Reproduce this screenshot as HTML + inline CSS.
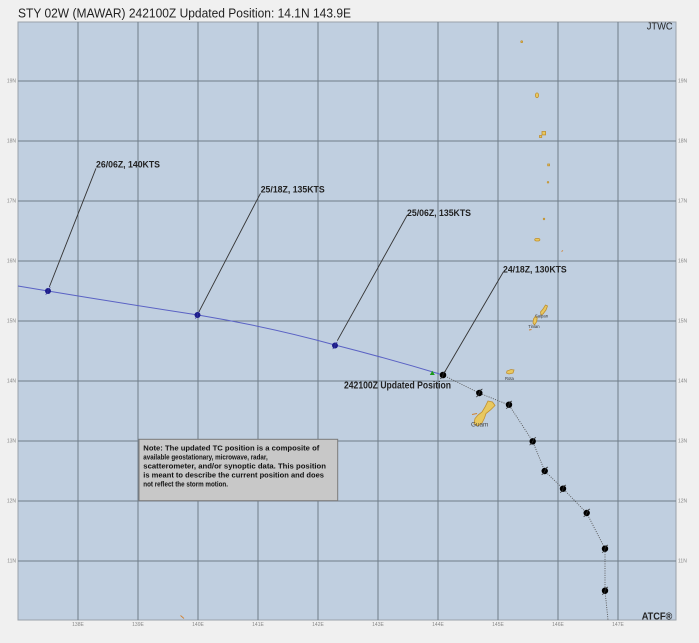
<!DOCTYPE html>
<html><head><meta charset="utf-8"><style>
html,body{margin:0;padding:0;background:#f0f0f0;}
svg{display:block;}
text{font-family:"Liberation Sans",Arial,sans-serif;}
</style></head><body>
<svg width="699" height="643" viewBox="0 0 699 643" xmlns="http://www.w3.org/2000/svg">
<rect x="0" y="0" width="699" height="643" fill="#f0f0f0"/>
<text x="18" y="17.7" font-size="13" fill="#222" textLength="333" lengthAdjust="spacingAndGlyphs">STY 02W (MAWAR) 242100Z Updated Position: 14.1N 143.9E</text>
<rect x="18" y="22" width="658" height="598" fill="#c0cfe0" stroke="#9aa2aa" stroke-width="1"/>
<g stroke="#6f7c89" stroke-width="1">
<line x1="78" y1="22" x2="78" y2="620"/><line x1="138" y1="22" x2="138" y2="620"/><line x1="198" y1="22" x2="198" y2="620"/><line x1="258" y1="22" x2="258" y2="620"/><line x1="318" y1="22" x2="318" y2="620"/><line x1="378" y1="22" x2="378" y2="620"/><line x1="438" y1="22" x2="438" y2="620"/><line x1="498" y1="22" x2="498" y2="620"/><line x1="558" y1="22" x2="558" y2="620"/><line x1="618" y1="22" x2="618" y2="620"/>
<line x1="18" y1="81" x2="676" y2="81"/><line x1="18" y1="141" x2="676" y2="141"/><line x1="18" y1="201" x2="676" y2="201"/><line x1="18" y1="261" x2="676" y2="261"/><line x1="18" y1="321" x2="676" y2="321"/><line x1="18" y1="381" x2="676" y2="381"/><line x1="18" y1="441" x2="676" y2="441"/><line x1="18" y1="501" x2="676" y2="501"/><line x1="18" y1="561" x2="676" y2="561"/>
</g>
<g font-size="5" fill="#888">
<text x="16" y="82.5" text-anchor="end">19N</text><text x="16" y="142.5" text-anchor="end">18N</text><text x="16" y="202.5" text-anchor="end">17N</text><text x="16" y="262.5" text-anchor="end">16N</text><text x="16" y="322.5" text-anchor="end">15N</text><text x="16" y="382.5" text-anchor="end">14N</text><text x="16" y="442.5" text-anchor="end">13N</text><text x="16" y="502.5" text-anchor="end">12N</text><text x="16" y="562.5" text-anchor="end">11N</text>
<text x="678" y="82.5">19N</text><text x="678" y="142.5">18N</text><text x="678" y="202.5">17N</text><text x="678" y="262.5">16N</text><text x="678" y="322.5">15N</text><text x="678" y="382.5">14N</text><text x="678" y="442.5">13N</text><text x="678" y="502.5">12N</text><text x="678" y="562.5">11N</text>
<text x="78" y="626" text-anchor="middle">138E</text><text x="138" y="626" text-anchor="middle">139E</text><text x="198" y="626" text-anchor="middle">140E</text><text x="258" y="626" text-anchor="middle">141E</text><text x="318" y="626" text-anchor="middle">142E</text><text x="378" y="626" text-anchor="middle">143E</text><text x="438" y="626" text-anchor="middle">144E</text><text x="498" y="626" text-anchor="middle">145E</text><text x="558" y="626" text-anchor="middle">146E</text><text x="618" y="626" text-anchor="middle">147E</text>
</g>
<!-- islands -->
<g fill="#e8c860" stroke="#c09030" stroke-width="0.8">
<circle cx="521.7" cy="41.7" r="0.9"/>
<ellipse cx="537" cy="95.3" rx="1.6" ry="2.4"/>
<rect x="542" y="131.5" width="3.6" height="3.4"/>
<rect x="539.5" y="135.5" width="2.2" height="2"/>
<rect x="547.7" y="164" width="1.8" height="1.8"/>
<circle cx="548" cy="182.3" r="0.8"/>
<circle cx="544" cy="219" r="0.8"/>
<ellipse cx="537.3" cy="239.7" rx="2.6" ry="1.3"/>
<path d="M545.5,305 L547.5,306 L546,310 L543,314 L541,315 L540.5,312 L543,309 Z"/>
<path d="M535.5,316 L537.3,317.5 L536.5,322 L534.5,325 L533,323 L533.5,319 Z"/>
<path d="M507,371 L511,369.5 L514,370 L513,373 L509,374 L506.5,373 Z"/>
<path d="M488,401 L492.5,402 L495,405.5 L490.5,410 L486,413.5 L484.5,418 L482,423 L477.5,426 L474,423.5 L475,418.5 L478,415 L482,412 L485,407 Z"/>
</g>
<g stroke="#d08030" stroke-width="0.9" fill="none">
<line x1="472" y1="414.5" x2="477" y2="413.5"/>
<line x1="529" y1="330" x2="531.5" y2="329.5"/>
<line x1="180.5" y1="615.5" x2="184" y2="618.5"/>
<line x1="561.5" y1="251.5" x2="563" y2="250.5"/>
</g>
<g font-size="4.2" fill="#333">
<text x="535" y="317.5">Saipan</text>
<text x="528.3" y="327.8">Tinian</text>
<text x="505" y="380.2">Rota</text>
</g>
<text x="471" y="426.3" font-size="6" fill="#444" textLength="17.3" lengthAdjust="spacingAndGlyphs">Guam</text>
<!-- past track -->
<polyline points="443,375 479,393 509,405 532.7,441.3 544.7,471 563,488.7 586.7,513 605,548.7 605,590.7 608,620" fill="none" stroke="#555" stroke-width="0.9" stroke-dasharray="1,1.3"/>
<g fill="#000">
<circle cx="479.3" cy="393" r="3.2"/><circle cx="509" cy="404.7" r="3.2"/><circle cx="532.7" cy="441.3" r="3.2"/><circle cx="544.7" cy="471" r="3.2"/><circle cx="563" cy="488.7" r="3.2"/><circle cx="586.7" cy="513" r="3.2"/><circle cx="605" cy="548.7" r="3.2"/><circle cx="605" cy="590.7" r="3.2"/>
</g>
<g stroke="#333" stroke-width="0.7" fill="none">
<path d="M476,397 q3,-1 3,-4 M482.5,389 q-3,1 -3,4"/>
<path d="M506,408.5 q3,-1 3,-4 M512,401 q-3,1 -3,4"/>
<path d="M529.5,445 q3,-1 3,-4 M536,437.5 q-3,1 -3,4"/>
<path d="M541.5,474.8 q3,-1 3,-4 M548,467 q-3,1 -3,4"/>
<path d="M560,492.5 q3,-1 3,-4 M566,485 q-3,1 -3,4"/>
<path d="M583.5,516.8 q3,-1 3,-4 M590,509 q-3,1 -3,4"/>
<path d="M602,552.5 q3,-1 3,-4 M608,545 q-3,1 -3,4"/>
<path d="M602,594.5 q3,-1 3,-4 M608,587 q-3,1 -3,4"/>
</g>
<!-- forecast track -->
<path d="M18,286 L48,291 Q120,303 198,315 Q270,327 335,345 Q390,359 443,375" fill="none" stroke="#5a62c4" stroke-width="1"/>
<g stroke="#333" stroke-width="0.9">
<line x1="49.3" y1="287" x2="96" y2="168.3"/>
<line x1="199" y1="311.7" x2="260.5" y2="193.3"/>
<line x1="337.3" y1="340.7" x2="407.3" y2="215"/>
<line x1="445" y1="371.5" x2="503.3" y2="272"/>
</g>
<g fill="#1c1c8c">
<circle cx="48" cy="291" r="3"/><circle cx="197.5" cy="315" r="3"/><circle cx="335" cy="345.5" r="3"/>
</g>
<g stroke="#3a3a9a" stroke-width="0.6" fill="none">
<path d="M45.5,294.5 q2.5,-1 2.5,-3.5 M50.5,287.5 q-2.5,1 -2.5,3.5"/>
<path d="M195,318.5 q2.5,-1 2.5,-3.5 M200,311.5 q-2.5,1 -2.5,3.5"/>
<path d="M332.5,349 q2.5,-1 2.5,-3.5 M337.5,342 q-2.5,1 -2.5,3.5"/>
</g>
<polygon points="432.3,370.8 434.8,375 429.8,375" fill="#1a9a1a"/>
<circle cx="443" cy="375" r="3.3" fill="#000"/>
<path d="M440,378.7 q3,-1 3,-4 M446,371 q-3,1 -3,4" stroke="#333" stroke-width="0.7" fill="none"/>
<g font-size="9.3" font-weight="bold" fill="#222">
<text x="96" y="167.4" textLength="64" lengthAdjust="spacingAndGlyphs">26/06Z, 140KTS</text>
<text x="260.7" y="192.6" textLength="64" lengthAdjust="spacingAndGlyphs">25/18Z, 135KTS</text>
<text x="407" y="216" textLength="64" lengthAdjust="spacingAndGlyphs">25/06Z, 135KTS</text>
<text x="503" y="272.3" textLength="63.7" lengthAdjust="spacingAndGlyphs">24/18Z, 130KTS</text>
</g>
<text x="344" y="388.4" font-size="10.3" font-weight="bold" fill="#222" textLength="107" lengthAdjust="spacingAndGlyphs">242100Z Updated Position</text>
<!-- note box -->
<rect x="139" y="439.3" width="198.7" height="61.4" fill="#c8c8c8" stroke="#7a7a7a" stroke-width="1"/>
<g font-size="7.4" font-weight="bold" fill="#111">
<text x="143.3" y="450.7" textLength="176" lengthAdjust="spacingAndGlyphs">Note:  The updated TC position is a composite of</text>
<text x="143.3" y="459.7" textLength="124.4" lengthAdjust="spacingAndGlyphs">available geostationary, microwave, radar,</text>
<text x="143.3" y="468.7" textLength="182.7" lengthAdjust="spacingAndGlyphs">scatterometer, and/or synoptic data.   This position</text>
<text x="143.3" y="477.7" textLength="180.7" lengthAdjust="spacingAndGlyphs">is meant to describe the current position and does</text>
<text x="143.3" y="486.7" textLength="84.7" lengthAdjust="spacingAndGlyphs">not reflect the storm motion.</text>
</g>
<text x="646.7" y="29.5" font-size="10.5" fill="#222" textLength="26" lengthAdjust="spacingAndGlyphs">JTWC</text>
<text x="641.7" y="619.5" font-size="10.5" font-weight="bold" fill="#222" textLength="30.6" lengthAdjust="spacingAndGlyphs">ATCF®</text>
</svg>
</body></html>
